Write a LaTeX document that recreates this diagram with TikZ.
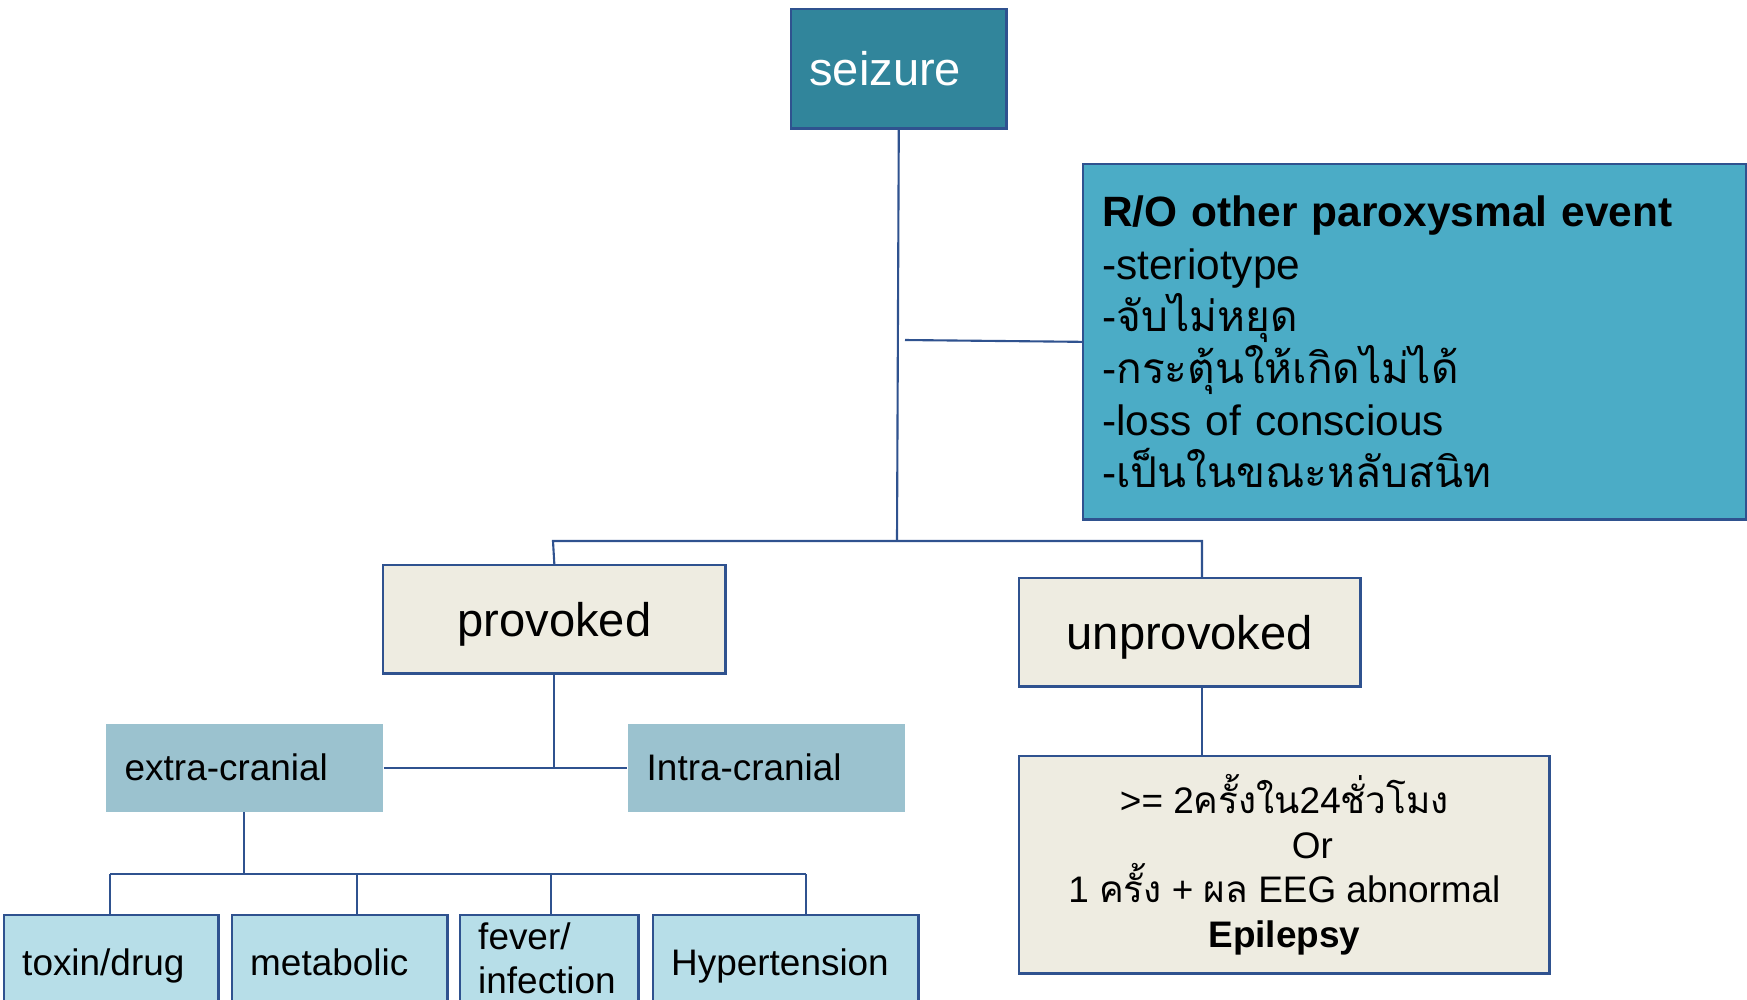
\documentclass[tikz,border=0pt]{standalone}
\usepackage{fontspec}
\setmainfont{Liberation Sans}
\newfontfamily\thaifont[Script=Thai]{Loma}
\usepackage{tikz}
\definecolor{linkblue}{RGB}{47,82,143}
\definecolor{seizureteal}{RGB}{49,133,155}
\definecolor{ruleoutblue}{RGB}{75,172,198}
\definecolor{paperbeige}{RGB}{238,236,225}
\definecolor{cranialgray}{RGB}{155,194,207}
\definecolor{causeblue}{RGB}{183,222,232}
\tikzset{
  root-node/.style={draw=linkblue, line width=0.7pt, fill=seizureteal, text=white,
    anchor=north west, align=left, inner xsep=0.18cm, inner ysep=0pt,
    font=\fontsize{13.4}{16}\selectfont},
  ruleout-node/.style={draw=linkblue, line width=0.7pt, fill=ruleoutblue,
    anchor=north west, align=left, inner xsep=0.19cm, inner ysep=0pt,
    font=\fontsize{12.06}{14.8}\selectfont},
  branch-node/.style={draw=linkblue, line width=0.7pt, fill=paperbeige,
    anchor=north west, align=center, inner sep=0pt, text height=12.4pt, text depth=2.8pt,
    font=\fontsize{13.4}{16}\selectfont},
  cranial-node/.style={fill=cranialgray, anchor=north west, align=left,
    inner xsep=0.19cm, inner ysep=0pt, font=\fontsize{10.5}{12.7}\selectfont},
  cause-node/.style={draw=linkblue, line width=0.7pt, fill=causeblue,
    anchor=north west, align=left, inner xsep=0.18cm, inner ysep=0pt,
    minimum height=1cm, font=\fontsize{10.5}{12.7}\selectfont},
  one-line/.style={text height=8pt, text depth=2.2pt},
  result-node/.style={draw=linkblue, line width=0.7pt, fill=paperbeige,
    anchor=north west, align=center, inner sep=0pt,
    font=\fontsize{10.5}{12.7}\selectfont},
  conn-line/.style={draw=linkblue, line width=0.6pt}
}

\begin{document}
\begin{tikzpicture}[x=0.01cm, y=-0.01cm]
\useasboundingbox (0,0) rectangle (1747,999);
\clip (0,0) rectangle (1747,999);

% Top of the tree
\node[root-node, text width=1.79cm, minimum height=1.19cm] (seizure) at (790,8) {seizure};
\node[ruleout-node, text width=6.25cm, minimum height=3.55cm] (ruleout) at (1082,163)
  {\textbf{R/O other paroxysmal event}\\
   -steriotype\\
   -{\thaifont จับไม่หยุด}\\
   -{\thaifont กระตุ้นให้เกิดไม่ได้}\\
   -loss of conscious\\
   -{\thaifont เป็นในขณะหลับสนิท}};

% Provoked / unprovoked
\node[branch-node, minimum width=3.42cm, minimum height=1.08cm] (provoked) at (382,564) {provoked};
\node[branch-node, minimum width=3.41cm, minimum height=1.08cm] (unprovoked) at (1018,577) {unprovoked};
\node[result-node, minimum width=5.30cm, minimum height=2.17cm] (epilepsy) at (1018,755)
  {>= 2{\thaifont ครั้งใน}24{\thaifont ชั่วโมง}\\
   \hspace*{0.56cm}Or\\
   1 {\thaifont ครั้ง} + {\thaifont ผล} EEG abnormal\\
   \textbf{Epilepsy}};

% Causes of provoked seizure
\node[cranial-node, text width=2.39cm, minimum height=0.88cm] (extra) at (105,723) {extra-cranial};
\node[cranial-node, text width=2.39cm, minimum height=0.88cm] (intra) at (627,723) {Intra-cranial};

\node[cause-node, one-line, text width=1.78cm] (toxin) at (3,914) {toxin/drug};
\node[cause-node, one-line, text width=1.79cm] (metabolic) at (231,914) {metabolic};
\node[cause-node, text width=1.42cm, minimum height=0.86cm] (fever) at (459,914) {fever/\\infection};
\node[cause-node, one-line, text width=2.29cm] (hyper) at (652,914) {Hypertension};

% Connectors
\coordinate (split-main) at (897,541);
\coordinate (ro-tap) at (905,340);
\coordinate (bar-left) at (553,541);
\coordinate (bar-right) at (1202,541);
\draw[conn-line] (seizure.south) -- (split-main);
\draw[conn-line] (ro-tap) -- (ruleout.west);
\draw[conn-line] (provoked.north) -- (bar-left) -- (bar-right) -- (bar-right |- unprovoked.north);
\draw[conn-line] (unprovoked.south -| bar-right) -- (bar-right |- epilepsy.north);

\coordinate (split-prov) at (provoked.south |- extra.east);
\draw[conn-line] (provoked.south) -- (split-prov);
\draw[conn-line] (extra.east) -- (intra.west);

\coordinate (cause-left) at (110,874);
\coordinate (cause-right) at (806,874);
\draw[conn-line] (extra.south) -- (extra.south |- cause-left);
\draw[conn-line] (cause-left) -- (cause-right);
\foreach \b/\x in {toxin/110, metabolic/357, fever/551, hyper/806}
  \draw[conn-line] (\x,874) coordinate (drop-\b) -- (drop-\b |- \b.north);
\end{tikzpicture}
\end{document}
